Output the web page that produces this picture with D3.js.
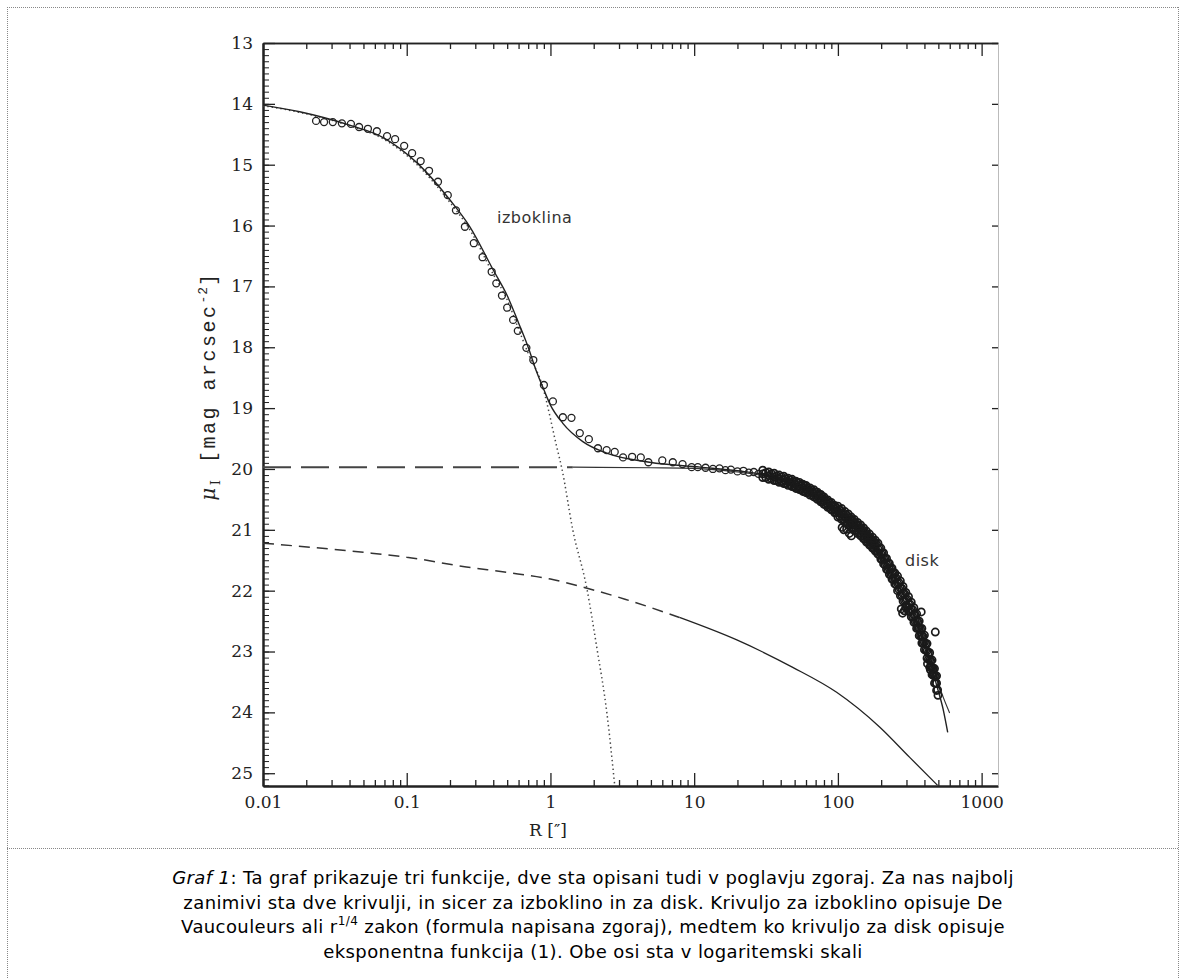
<!DOCTYPE html>
<html>
<head>
<meta charset="utf-8">
<script src="https://cdn.jsdelivr.net/npm/d3@7"></script>
<style>
  body { margin: 0; background: #fff; }
  #canvas { width: 1186px; height: 978px; position: relative; overflow: hidden; }
</style>
</head>
<body>
<div id="canvas"></div>
<script>
// --- data: R in arcsec, mu in mag arcsec^-2 ---

// total fit (solid)
const totalR  = [0.01, 0.018, 0.04, 0.068, 0.118, 0.2, 0.275, 0.4, 0.5, 0.6, 0.7, 0.8, 0.9, 1.0, 1.22, 1.68, 2.46, 4.9, 11, 20, 32, 50, 71, 100, 121, 150, 186, 230, 269, 310, 353, 400, 435, 486, 540, 581];
const totalMu = [14.02, 14.13, 14.35, 14.55, 14.97, 15.58, 16.02, 16.73, 17.15, 17.6, 18.0, 18.4, 18.7, 18.95, 19.25, 19.55, 19.74, 19.89, 19.97, 20.03, 20.1, 20.25, 20.43, 20.68, 20.84, 21.05, 21.3, 21.65, 21.94, 22.2, 22.5, 22.85, 23.14, 23.55, 23.95, 24.33];

// bulge, de Vaucouleurs (dotted)
const bulgeR  = [0.01, 0.018, 0.04, 0.068, 0.118, 0.2, 0.275, 0.4, 0.5, 0.6, 0.7, 0.87, 1.107, 1.2, 1.43, 1.79, 2.1, 2.47, 2.8];
const bulgeMu = [14.03, 14.14, 14.36, 14.57, 15.0, 15.62, 16.07, 16.8, 17.22, 17.7, 18.1, 18.6, 19.64, 19.99, 21.0, 21.96, 22.93, 24.01, 25.2];

// inner disk (long dash, then solid from ~1.4")
const innerR  = [0.01, 0.1, 1.0, 1.43, 5, 10, 20, 32, 50, 71, 100, 150, 186, 269, 353, 435, 486, 540, 599];
const innerMu = [19.97, 19.97, 19.97, 19.97, 19.98, 19.99, 20.05, 20.12, 20.27, 20.45, 20.7, 21.08, 21.32, 21.97, 22.52, 23.15, 23.45, 23.75, 24.01];
const innerSplit = 1.43;

// outer disk, exponential (short dash, then solid from ~7")
const outerR  = [0.01, 0.05, 0.1, 0.26, 0.5, 1, 1.8, 3.3, 7.9, 19.8, 48.5, 98, 195, 316, 494];
const outerMu = [21.22, 21.37, 21.45, 21.61, 21.70, 21.81, 21.96, 22.14, 22.44, 22.81, 23.26, 23.67, 24.24, 24.74, 25.2];
const outerSplit = 7;

// observed profile (open circles), inner sparse part
const obsR = [0.0234, 0.0266, 0.0306, 0.0354, 0.0409, 0.0466, 0.0537, 0.062, 0.073, 0.083, 0.096, 0.109, 0.125, 0.143, 0.165, 0.193, 0.22, 0.254, 0.293, 0.337, 0.39, 0.42, 0.46, 0.5, 0.55, 0.593, 0.68, 0.76, 0.9, 1.04, 1.22, 1.4, 1.6, 1.85, 2.14, 2.46, 2.8, 3.2, 3.7, 4.25, 4.8, 6.0, 7.1, 8.3, 9.6, 10.6,
  12, 13.5, 15, 16.5, 18, 20, 22, 24, 26, 28];
const obsMu = [14.28, 14.30, 14.30, 14.32, 14.33, 14.38, 14.41, 14.45, 14.53, 14.58, 14.69, 14.81, 14.94, 15.10, 15.28, 15.50, 15.75, 16.02, 16.29, 16.52, 16.76, 16.95, 17.15, 17.35, 17.55, 17.73, 18.01, 18.21, 18.62, 18.89, 19.15, 19.16, 19.41, 19.51, 19.66, 19.69, 19.72, 19.81, 19.80, 19.81, 19.89, 19.86, 19.89, 19.92, 19.97, 19.97,
  19.98, 20.0, 19.99, 20.02, 20.01, 20.04, 20.03, 20.06, 20.05, 20.08];

// dense outer part of the profile: rows across the band
const bandR = [30, 33, 36, 39, 42, 45, 48, 51, 54, 57, 60, 64, 68, 72, 76, 80, 85, 90, 95, 100, 106, 112, 118, 124, 130, 137, 144, 151, 158, 166, 174, 182, 190, 199, 208, 218, 228, 238, 249, 260, 272, 284, 297, 310, 324, 338, 353, 368, 384, 400, 417, 435, 452, 470, 486];
const bandTop = [20.02, 20.05, 20.07, 20.10, 20.12, 20.15, 20.17, 20.20, 20.22, 20.25, 20.27, 20.31, 20.34, 20.38, 20.42, 20.46, 20.51, 20.55, 20.60, 20.61, 20.65, 20.70, 20.74, 20.79, 20.83, 20.88, 20.92, 20.97, 21.02, 21.07, 21.12, 21.17, 21.22, 21.30, 21.38, 21.47, 21.55, 21.63, 21.71, 21.76, 21.84, 21.93, 22.03, 22.10, 22.19, 22.28, 22.38, 22.50, 22.62, 22.73, 22.87, 23.02, 23.14, 23.28, 23.40];
const bandMid = [20.08, 20.11, 20.13, 20.16, 20.18, 20.21, 20.23, 20.26, 20.28, 20.31, 20.33, 20.37, 20.40, 20.44, 20.48, 20.52, 20.57, 20.61, 20.66, 20.70, 20.74, 20.79, 20.83, 20.88, 20.92, 20.97, 21.01, 21.06, 21.11, 21.16, 21.21, 21.26, 21.31, 21.39, 21.47, 21.56, 21.64, 21.72, 21.80, 21.88, 21.96, 22.05, 22.15, 22.22, 22.31, 22.40, 22.50, 22.62, 22.74, 22.85, 22.99, 23.14, 23.26, 23.40, 23.52];
const bandBot = [20.14, 20.17, 20.19, 20.22, 20.24, 20.27, 20.29, 20.32, 20.34, 20.37, 20.39, 20.43, 20.46, 20.50, 20.54, 20.58, 20.63, 20.67, 20.72, 20.79, 20.83, 20.88, 20.92, 20.97, 21.01, 21.06, 21.10, 21.15, 21.20, 21.25, 21.30, 21.35, 21.40, 21.48, 21.56, 21.65, 21.73, 21.81, 21.89, 22.00, 22.08, 22.17, 22.27, 22.34, 22.43, 22.52, 22.62, 22.74, 22.86, 22.97, 23.11, 23.26, 23.38, 23.52, 23.64];

const bandR2 = [31.5, 34.5, 37.5, 40.5, 43.5, 46.5, 49.5, 52.5, 55.5, 58.5, 62, 66, 70, 74, 78, 82.5, 87.5, 92.5, 97.5, 103, 109, 115, 121, 127, 133.5, 140.5, 147.5, 154.5, 162, 170, 178, 186, 194.5, 203.5, 213, 223, 233, 243.5, 254.5, 266, 278, 290.5, 303.5, 317, 331, 345.5, 360.5, 376, 392, 408.5, 426, 443.5, 461, 478];
const bandUpper2 = [20.06, 20.08, 20.11, 20.13, 20.16, 20.18, 20.21, 20.23, 20.26, 20.28, 20.31, 20.35, 20.38, 20.42, 20.46, 20.51, 20.55, 20.60, 20.64, 20.67, 20.72, 20.76, 20.81, 20.85, 20.90, 20.94, 20.99, 21.04, 21.09, 21.14, 21.19, 21.24, 21.30, 21.38, 21.47, 21.55, 21.63, 21.71, 21.79, 21.87, 21.96, 22.05, 22.14, 22.22, 22.31, 22.40, 22.51, 22.63, 22.75, 22.87, 23.02, 23.15, 23.28, 23.41];
const bandLower2 = [20.14, 20.16, 20.19, 20.21, 20.24, 20.26, 20.29, 20.31, 20.34, 20.36, 20.39, 20.43, 20.46, 20.50, 20.54, 20.59, 20.63, 20.68, 20.72, 20.78, 20.83, 20.87, 20.92, 20.96, 21.01, 21.05, 21.10, 21.15, 21.20, 21.25, 21.30, 21.35, 21.41, 21.49, 21.58, 21.66, 21.74, 21.82, 21.90, 21.98, 22.07, 22.16, 22.25, 22.33, 22.42, 22.51, 22.62, 22.74, 22.86, 22.98, 23.13, 23.26, 23.39, 23.52];

// clumps and stray points of the outer profile
const strayR  = [107, 110, 115, 120, 124, 276, 282, 290, 300, 380, 476, 494, 497, 420, 440, 460];
const strayMu = [20.96, 21.0, 20.99, 21.06, 21.1, 22.3, 22.37, 22.33, 22.28, 22.35, 22.68, 23.63, 23.72, 23.2, 23.3, 23.35];

const yMajor = d3.range(13, 26);
const yMinor = d3.range(130, 253).map(d => d / 10);
const xMajor = [0.01, 0.1, 1, 10, 100, 1000];
const xLabels = ["0.01", "0.1", "1", "10", "100", "1000"];

const captionLines = [
  ["Graf 1", ": Ta graf prikazuje tri funkcije, dve sta opisani tudi v poglavju zgoraj. Za nas najbolj"],
  [null, "zanimivi sta dve krivulji, in sicer za izboklino in za disk. Krivuljo za izboklino opisuje De"],
  [null, "Vaucouleurs ali r", "1/4", " zakon (formula napisana zgoraj), medtem ko krivuljo za disk opisuje"],
  [null, "eksponentna funkcija (1). Obe osi sta v logaritemski skali"]
];

// --- drawing ---
const W = 1186, H = 978;
const plot = { left: 263, top: 43, right: 998, bottom: 786 };
const ink = "#222";

const svg = d3.select("#canvas").append("svg")
  .attr("width", W).attr("height", H);

// page frame (dotted)
const frame = [[7.5, 7, 7.5, H], [7, 7.5, W - 7, 7.5], [W - 7.5, 7, W - 7.5, H], [7, 848.5, W - 7, 848.5]];
svg.selectAll("line.frame").data(frame).join("line").attr("class", "frame")
  .attr("x1", d => d[0]).attr("y1", d => d[1]).attr("x2", d => d[2]).attr("y2", d => d[3])
  .attr("stroke", "#888").attr("stroke-dasharray", "1,1");

const x = d3.scaleLog().domain([0.01, 1300]).range([plot.left, plot.right]);
const y = d3.scaleLinear().domain([13, 25.21]).range([plot.top, plot.bottom]);

const g = svg.append("g");

// axes
const tickFont = "'DejaVu Serif', serif";
const xMinor = [];
xMajor.forEach(d => { for (let k = 2; k <= 9; k++) if (d * k < 1300) xMinor.push(d * k); });

function styleAxis(sel) {
  sel.select(".domain").attr("stroke", ink).attr("stroke-width", 2);
  sel.selectAll(".tick line").attr("stroke", ink).attr("stroke-width", 1.3);
  sel.selectAll(".tick text").attr("fill", ink).style("font-family", tickFont).style("font-size", "17px");
}

g.append("g").attr("transform", `translate(0,${plot.bottom})`)
  .call(d3.axisBottom(x).tickValues(xMinor).tickSize(-6).tickFormat("").tickSizeOuter(0))
  .call(styleAxis);
g.append("g").attr("transform", `translate(0,${plot.bottom})`)
  .call(d3.axisBottom(x).tickValues(xMajor).tickSize(-13).tickPadding(10)
    .tickFormat((d, i) => xLabels[i]).tickSizeOuter(0))
  .call(styleAxis);

g.append("g").attr("transform", `translate(0,${plot.top})`)
  .call(d3.axisTop(x).tickValues(xMinor).tickSize(-6).tickFormat("").tickSizeOuter(0))
  .call(styleAxis)
  .call(s => s.select(".domain").attr("stroke-width", 1.5));
g.append("g").attr("transform", `translate(0,${plot.top})`)
  .call(d3.axisTop(x).tickValues(xMajor).tickSize(-13).tickFormat("").tickSizeOuter(0))
  .call(styleAxis)
  .call(s => s.select(".domain").attr("stroke-width", 1.5));

g.append("g").attr("transform", `translate(${plot.left},0)`)
  .call(d3.axisLeft(y).tickValues(yMinor).tickSize(-6).tickFormat("").tickSizeOuter(0))
  .call(styleAxis)
  .call(s => s.selectAll(".tick line").attr("stroke-width", 1));
g.append("g").attr("transform", `translate(${plot.left},0)`)
  .call(d3.axisLeft(y).tickValues(yMajor).tickSize(-12).tickPadding(10).tickFormat(d3.format("d")).tickSizeOuter(0))
  .call(styleAxis);

g.append("g").attr("transform", `translate(${plot.right},0)`)
  .call(d3.axisRight(y).tickValues(yMajor).tickSize(-6).tickFormat("").tickSizeOuter(0))
  .call(styleAxis)
  .call(s => s.select(".domain").attr("stroke-width", 1).attr("stroke", "#bbb"));

// axis titles
g.append("text")
  .attr("x", 548).attr("y", 836)
  .attr("text-anchor", "middle").attr("fill", ink)
  .style("font-family", tickFont).style("font-size", "17px")
  .text("R [\u2033]");

const yt = g.append("text")
  .attr("transform", `translate(215,386) rotate(-90)`)
  .attr("text-anchor", "middle").attr("fill", ink)
  .style("font-family", "'Liberation Mono', monospace").style("font-size", "20px")
  .style("letter-spacing", "2.5px");
yt.append("tspan").style("font-family", tickFont).style("font-style", "italic").text("\u03bc");
yt.append("tspan").attr("dy", 5).style("font-size", "13px").style("font-family", tickFont).text("I");
yt.append("tspan").attr("dy", -5).text(" [mag arcsec");
yt.append("tspan").attr("dy", -8).style("font-size", "13px").style("letter-spacing", "1px").text("-2");
yt.append("tspan").attr("dy", 8).text("]");

// curves
const line = d3.line().x(d => x(d[0])).y(d => y(d[1])).curve(d3.curveMonotoneX);
const zipped = (rs, ms) => rs.map((r, i) => [r, ms[i]]);
svg.append("clipPath").attr("id", "plotclip").append("rect")
  .attr("x", plot.left).attr("y", plot.top).attr("width", plot.right - plot.left).attr("height", plot.bottom - plot.top);
const curves = g.append("g").attr("clip-path", "url(#plotclip)");

const total = zipped(totalR, totalMu);
const bulge = zipped(bulgeR, bulgeMu);
const inner = zipped(innerR, innerMu);
const outer = zipped(outerR, outerMu);

curves.append("path").datum(bulge).attr("d", line)
  .attr("fill", "none").attr("stroke", "#444").attr("stroke-width", 1.5).attr("stroke-dasharray", "1.4,3");

curves.append("path").datum(inner.filter(d => d[0] <= innerSplit)).attr("d", line)
  .attr("fill", "none").attr("stroke", "#444").attr("stroke-width", 2).attr("stroke-dasharray", "28,10");
curves.append("path").datum(inner.filter(d => d[0] >= innerSplit)).attr("d", line)
  .attr("fill", "none").attr("stroke", "#333").attr("stroke-width", 1.2);

curves.append("path").datum(outer.filter(d => d[0] <= outerSplit + 1)).attr("d", line)
  .attr("fill", "none").attr("stroke", "#333").attr("stroke-width", 1.5).attr("stroke-dasharray", "11,7");
curves.append("path").datum(outer.filter(d => d[0] >= outerSplit)).attr("d", line)
  .attr("fill", "none").attr("stroke", "#222").attr("stroke-width", 1.3);

curves.append("path").datum(total).attr("d", line)
  .attr("fill", "none").attr("stroke", "#222").attr("stroke-width", 1.4);

// observed points
const sparse = zipped(obsR, obsMu);
const dense = [].concat(
  zipped(bandR, bandTop), zipped(bandR, bandMid), zipped(bandR, bandBot),
  zipped(bandR2, bandUpper2), zipped(bandR2, bandLower2),
  zipped(strayR, strayMu));
curves.selectAll("circle.obs").data(sparse).join("circle")
  .attr("class", "obs")
  .attr("cx", d => x(d[0])).attr("cy", d => y(d[1])).attr("r", 3.5)
  .attr("fill", "none").attr("stroke", "#222").attr("stroke-width", 1.3);
curves.selectAll("circle.dense").data(dense).join("circle")
  .attr("class", "dense")
  .attr("cx", d => x(d[0])).attr("cy", d => y(d[1])).attr("r", 3.6)
  .attr("fill", "none").attr("stroke", "#1a1a1a").attr("stroke-width", 1.7);

// component labels
const labelStyle = sel => sel.style("font-family", "'DejaVu Sans', sans-serif").style("font-size", "16px")
  .style("letter-spacing", "0.5px").attr("fill", "#333");
g.append("text").attr("x", 497).attr("y", 223).call(labelStyle).text("izboklina");
g.append("text").attr("x", 905).attr("y", 566).call(labelStyle).text("disk");

// caption
const cap = svg.append("text").attr("text-anchor", "middle").attr("fill", "#000")
  .style("font-family", "'DejaVu Sans', Verdana, sans-serif").style("font-size", "18px")
  .style("letter-spacing", "0.4px");
captionLines.forEach((parts, i) => {
  const t = cap.append("tspan").attr("x", W / 2).attr("y", 884 + i * 24.5);
  if (parts[0]) t.append("tspan").style("font-style", "italic").text(parts[0]);
  t.append("tspan").text(parts[1]);
  if (parts.length > 2) {
    t.append("tspan").attr("dy", -8).style("font-size", "12px").text(parts[2]);
    t.append("tspan").attr("dy", 8).text(parts[3]);
  }
});
</script>
</body>
</html>
